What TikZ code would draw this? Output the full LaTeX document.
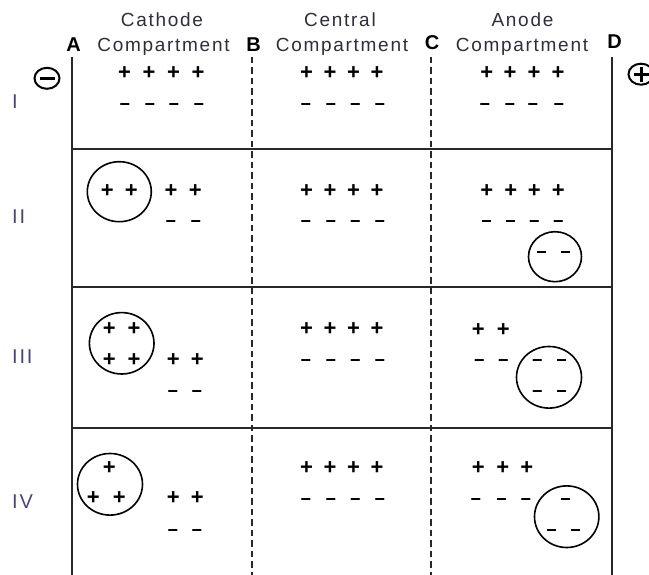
\documentclass[tikz,border=0pt]{standalone}
\usepackage{fontspec}
\setmainfont{Liberation Sans}
\newfontfamily\hdrfont[LetterSpace=9]{Liberation Sans}
\usetikzlibrary{shapes.geometric}
\definecolor{hdrcol}{RGB}{45,45,60}
\definecolor{lblcol}{RGB}{70,70,125}
\definecolor{linecol}{RGB}{40,40,40}
\newcommand\signrow[4]{\foreach \xx [count=\k] in {#2} {\node[sg#4] (#1\k) at (\xx,#3) {\csname sym#4\endcsname};}}
\newcommand\symp{+}
\newcommand\symm{−}
\tikzset{
  frame/.style={line width=1.6pt, draw=linecol},
  divider/.style={line width=1.5pt, draw=linecol, dash pattern=on 6.5pt off 4pt},
  hdr/.style={font=\hdrfont\fontsize{19}{19}\selectfont, text=hdrcol, anchor=base, inner sep=0pt},
  letter/.style={font=\bfseries\fontsize{20}{20}\selectfont, anchor=base, inner sep=0pt},
  rowlbl/.style={font=\hdrfont\fontsize{20}{20}\selectfont, text=lblcol, anchor=west, inner sep=0pt},
  sgp/.style={font=\bfseries\fontsize{22}{22}\selectfont, inner sep=0pt, text height=14.6pt, text depth=0pt},
  sgm/.style={font=\bfseries\fontsize{18}{18}\selectfont, inner sep=0pt, text height=12pt, text depth=0pt},
  grp/.style={ellipse, draw=black, line width=1.6pt, inner sep=0pt},
  pole/.style={ellipse, draw=black, line width=2pt, minimum width=25pt, minimum height=21pt, inner sep=0pt},
}
\begin{document}
\begin{tikzpicture}[x=1pt, y=-1pt]
\useasboundingbox (0,0) rectangle (649,575);
% frame
\coordinate (Atop) at (72,57);   \coordinate (Abot) at (72,575);
\coordinate (Dtop) at (612,57);  \coordinate (Dbot) at (612,575);
\coordinate (Btop) at (252,57);  \coordinate (Bbot) at (252,575);
\coordinate (Ctop) at (431,57);  \coordinate (Cbot) at (431,575);
\coordinate (h1l) at (72,149);  \coordinate (h1r) at (612,149);
\coordinate (h2l) at (72,287);  \coordinate (h2r) at (612,287);
\coordinate (h3l) at (72,428);  \coordinate (h3r) at (612,428);
\draw[frame] (Atop) -- (Abot);
\draw[frame] (Dtop) -- (Dbot);
\draw[frame] (h1l) -- (h1r);
\draw[frame] (h2l) -- (h2r);
\draw[frame] (h3l) -- (h3r);
\draw[divider] (Btop) -- (Bbot);
\draw[divider] (Ctop) -- (Cbot);
% headers
\node[hdr] (cath1) at (162,27) {Cathode};
\node[hdr] (cath2) at (163.5,52) {Compartment};
\node[hdr] (cent1) at (340,27) {Central};
\node[hdr] (cent2) at (342,52) {Compartment};
\node[hdr] (anod1) at (522.5,27) {Anode};
\node[hdr] (anod2) at (522,52) {Compartment};
\node[letter] (lA) at (73.5,52) {A};
\node[letter] (lB) at (253.5,51.5) {B};
\node[letter] (lC) at (432,50) {C};
\node[letter] (lD) at (614.5,49) {D};
% poles
\node[pole, path picture={\draw[line width=3pt] ([xshift=-7.5pt]path picture bounding box.center) -- ([xshift=7.5pt]path picture bounding box.center);}] (neg) at (47,78.3) {};
\node[pole, path picture={\draw[line width=3pt] ([xshift=-7.5pt]path picture bounding box.center) -- ([xshift=7.5pt]path picture bounding box.center);
  \draw[line width=3pt] ([yshift=-7.5pt]path picture bounding box.center) -- ([yshift=7.5pt]path picture bounding box.center);}] (pos) at (641,74.2) {};
% row labels
\node[rowlbl] (r1) at (12,101.5) {I};
\node[rowlbl] (r2) at (12,217) {II};
\node[rowlbl] (r3) at (12,356.7) {III};
\node[rowlbl] (r4) at (12,501.5) {IV};
% Row I
\signrow{aIp}{124.5,149,173.5,198}{72}{p}
\signrow{aIm}{125,150,174,199}{105}{m}
\signrow{bIp}{306.5,330,353.5,377}{72}{p}
\signrow{bIm}{306,331,355.5,380}{105}{m}
\signrow{cIp}{486.7,510,534,558}{72}{p}
\signrow{cIm}{485,510,533,559}{105}{m}
% Row II
\node[grp, minimum width=64pt, minimum height=60pt] (gII1) at (119.3,191.7) {};
\signrow{aIIi}{107.3,131.3}{190}{p}
\signrow{aIIp}{171,195.3}{190}{p}
\signrow{aIIm}{171,196}{221.7}{m}
\signrow{bIIp}{306.5,330,353.5,377}{190}{p}
\signrow{bIIm}{306,331,355.5,380}{222}{m}
\signrow{cIIp}{486.7,510.7,534.3,558.3}{190.7}{p}
\signrow{cIIm}{486.7,510.7,534.3,558.3}{221.7}{m}
\node[grp, minimum width=53pt, minimum height=50pt] (gII2) at (555,256.7) {};
\signrow{cIIi}{541.7,565.7}{253}{m}
% Row III
\node[grp, minimum width=64.6pt, minimum height=61.4pt] (gIII1) at (121.7,343.3) {};
\signrow{aIIIi}{109.3,134}{328.3}{p}
\signrow{aIIIj}{109.3,134}{359.3}{p}
\signrow{aIIIp}{173.3,197.3}{359.3}{p}
\signrow{aIIIm}{173,197}{391}{m}
\signrow{bIIIp}{306.5,330,353.5,377}{328}{p}
\signrow{bIIIm}{306,331,355.5,380}{360.7}{m}
\signrow{cIIIp}{478.3,503.3}{329}{p}
\signrow{cIIIm}{479.3,503.3}{360.7}{m}
\node[grp, minimum width=65pt, minimum height=61.6pt] (gIII2) at (549,377.3) {};
\signrow{cIIIi}{537.3,561.7}{360.7}{m}
\signrow{cIIIj}{537.3,561.7}{391}{m}
% Row IV
\node[grp, minimum width=65pt, minimum height=61.6pt] (gIV1) at (110,484.3) {};
\signrow{aIVi}{109.3}{466.7}{p}
\signrow{aIVj}{93.3,119.3}{496.7}{p}
\signrow{aIVp}{173.3,197.3}{496.7}{p}
\signrow{aIVm}{173,197}{530}{m}
\signrow{bIVp}{306.5,330,353.5,377}{466.7}{p}
\signrow{bIVm}{306,331,355.5,380}{499}{m}
\signrow{cIVp}{478.3,502.7,526.7}{466.7}{p}
\signrow{cIVm}{476,501.7,526}{499}{m}
\node[grp, minimum width=64.4pt, minimum height=61.6pt] (gIV2) at (566.7,516.7) {};
\signrow{cIVi}{565.7}{499}{m}
\signrow{cIVj}{551.7,575.7}{530}{m}
\end{tikzpicture}
\end{document}
